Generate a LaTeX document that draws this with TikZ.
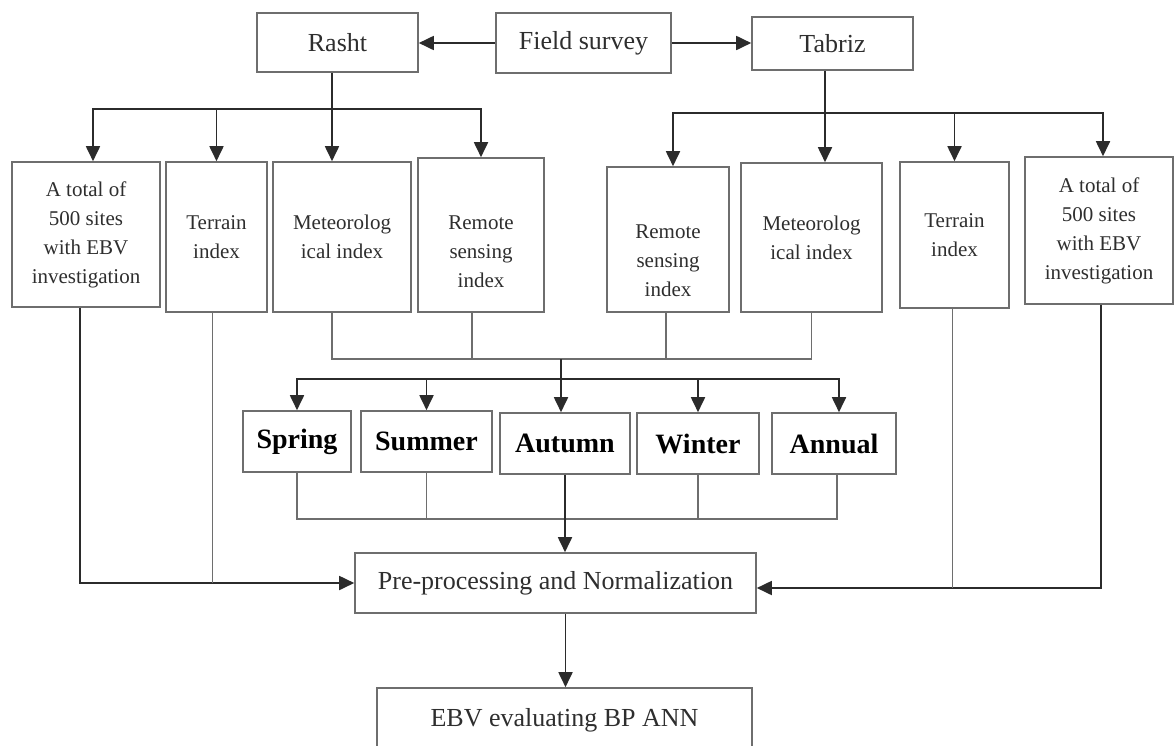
\documentclass[tikz,border=0pt]{standalone}
\usepackage{fontspec}
\setmainfont{Liberation Serif}
\usepackage{tikz}
\usetikzlibrary{arrows.meta,positioning,calc}
\definecolor{boxgray}{HTML}{6E6E6E}
\definecolor{linegray}{HTML}{2B2B2B}
\definecolor{textgray}{HTML}{2E2E2E}

\begin{document}
\begin{tikzpicture}[x=1pt,y=-1pt,
  box/.style={draw=boxgray,line width=1.6pt,inner sep=0pt,align=center,text=textgray,
    font=\fontsize{21}{29}\selectfont},
  topbox/.style={box,font=\fontsize{26}{31}\selectfont},
  seasonbox/.style={box,text=black,minimum height=61,font=\fontsize{28}{32}\selectfont\bfseries},
  arr/.style={draw=linegray,line width=1.8pt,-{Triangle[length=15pt,width=14pt]}},
  ln/.style={draw=boxgray,line width=1.5pt}]
  \useasboundingbox (0,0) rectangle (1175,745);
  % Top row
  \node[topbox,minimum width=161,minimum height=59] (rasht) at (337.5,42.5) {Rasht};
  \node[topbox,minimum width=175,minimum height=60] (field) at (583.5,43) {Field survey};
  \node[topbox,minimum width=161,minimum height=53] (tabriz) at (832.5,43.5) {Tabriz};
  % Rasht indices
  \node[box,minimum width=148,minimum height=145] (rTotal) at (86,234.5)
    {A total of\\500 sites\\with EBV\\investigation};
  \node[box,minimum width=101,minimum height=150] (rTerrain) at (216.5,237) {Terrain\\index};
  \node[box,minimum width=138,minimum height=150] (rMeteo) at (342,237) {Meteorolog\\ical index};
  \node[box,minimum width=126,minimum height=154] (rRemote) at (481,235)
    {\mbox{}\\[19pt]Remote\\sensing\\index};
  % Tabriz indices
  \node[box,minimum width=122,minimum height=145] (tRemote) at (668,239.5)
    {\mbox{}\\[27pt]Remote\\sensing\\index};
  \node[box,minimum width=141,minimum height=149] (tMeteo) at (811.5,237.5) {Meteorolog\\ical index};
  \node[box,minimum width=109,minimum height=146] (tTerrain) at (954.5,235) {Terrain\\index};
  \node[box,minimum width=148,minimum height=147] (tTotal) at (1099,230.5)
    {A total of\\500 sites\\with EBV\\investigation};
  % Seasons
  \node[seasonbox,minimum width=108] (spring) at (297,441.5) {Spring};
  \node[seasonbox,minimum width=131] (summer) at (426.5,441.5) {Summer};
  \node[seasonbox,minimum width=130] (autumn) at (565,443.5) {Autumn};
  \node[seasonbox,minimum width=122] (winter) at (698,443.5) {Winter};
  \node[seasonbox,minimum width=124] (annual) at (834,443.5) {Annual};
  % Bottom
  \node[topbox,minimum width=401,minimum height=60] (pre) at (555.5,583)
    {Pre-processing and Normalization};
  \node[topbox,minimum width=375,minimum height=64] (ebv) at (564.5,720) {EBV evaluating BP ANN};
  % Junctions
  \coordinate (rBus) at (332,109);
  \coordinate (tBus) at (825,113);
  \coordinate (mTop) at (561,359);
  \coordinate (sBus) at (561,379);
  \coordinate (mBot) at (565,519);
  \coordinate (preIn) at ([yshift=-5pt]pre.east);
  % Field survey
  \draw[arr] (field.west) -- (field.west -| rasht.east);
  \draw[arr] (field.east) -- (field.east -| tabriz.west);
  % Rasht branches
  \draw[arr] (rBus |- rasht.south) -- (rBus |- rMeteo.north);
  \draw[arr] (rBus) -| ([xshift=7pt]rTotal.north);
  \draw[arr] (rBus -| rTerrain.north) -- (rTerrain.north);
  \draw[arr] (rBus) -| (rRemote.north);
  % Tabriz branches
  \draw[arr] (tBus |- tabriz.south) -- (tBus |- tMeteo.north);
  \draw[arr] (tBus) -| ([xshift=5pt]tRemote.north);
  \draw[arr] (tBus -| tTerrain.north) -- (tTerrain.north);
  \draw[arr] (tBus) -| ([xshift=4pt]tTotal.north);
  % Index merge
  \draw[ln] ([xshift=-10pt]rMeteo.south) |- (mTop) -| (tMeteo.south);
  \draw[ln] ([xshift=-9pt]rRemote.south) -- ([xshift=-9pt]rRemote.south |- mTop);
  \draw[ln] ([xshift=-2pt]tRemote.south) -- ([xshift=-2pt]tRemote.south |- mTop);
  \draw[arr] (mTop) -- ([xshift=-4pt]autumn.north);
  % Season bus
  \draw[arr] (sBus) -| (spring.north);
  \draw[arr] (sBus) -| (summer.north);
  \draw[arr] (sBus) -| (winter.north);
  \draw[arr] (sBus) -| ([xshift=5pt]annual.north);
  % Season merge
  \draw[ln] (spring.south) |- (mBot) -| ([xshift=3pt]annual.south);
  \draw[ln] (summer.south) -- (summer.south |- mBot);
  \draw[ln] (winter.south) -- (winter.south |- mBot);
  \draw[arr] (autumn.south) -- (autumn.south |- pre.north);
  % Side inputs
  \draw[arr] ([xshift=-6pt]rTotal.south) |- (pre.west);
  \draw[ln] ([xshift=-4pt]rTerrain.south) -- ([xshift=-4pt]rTerrain.south |- pre.west);
  \draw[arr] ([xshift=2pt]tTotal.south) |- (preIn);
  \draw[ln] ([xshift=-2pt]tTerrain.south) -- ([xshift=-2pt]tTerrain.south |- preIn);
  % Output
  \draw[arr] ([xshift=10pt]pre.south) -- ([xshift=10pt]pre.south |- ebv.north);
\end{tikzpicture}
\end{document}
